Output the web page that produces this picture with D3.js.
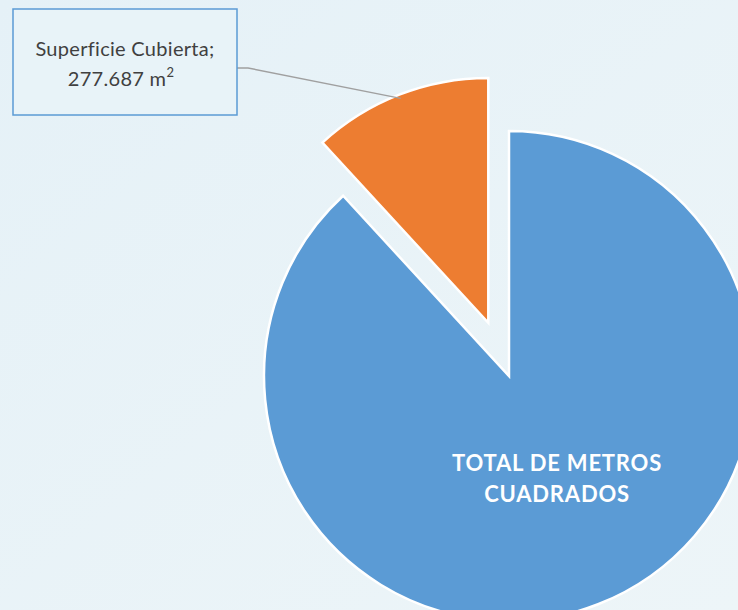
<!DOCTYPE html>
<html>
<head>
<meta charset="utf-8">
<script src="https://cdn.jsdelivr.net/npm/d3@7"></script>
<style>
  html, body { margin: 0; padding: 0; background: #e9f4f8; }
  svg { display: block; }
</style>
</head>
<body>
<script>
// data
var categories = ["TOTAL DE METROS CUADRADOS", "Superficie Cubierta"];
var values = [2068, 277.687];
var labelTexts = [["TOTAL DE METROS", "CUADRADOS"], ["Superficie Cubierta;", "277.687 m"]];
var colors = ["#5b9bd5", "#ed7d31"];

var width = 738,
    height = 610;

var cx = 509, cy = 376, radius = 245, explode = 57;

var svg = d3.select("body").append("svg")
    .attr("width", width)
    .attr("height", height);

var defs = svg.append("defs");
var grad = defs.append("linearGradient")
    .attr("id", "bg")
    .attr("x1", "0").attr("y1", "0")
    .attr("x2", "1").attr("y2", "1");
grad.append("stop").attr("offset", "0").attr("stop-color", "#e5f1f7");
grad.append("stop").attr("offset", "1").attr("stop-color", "#edf5f8");

svg.append("rect")
    .attr("width", width)
    .attr("height", height)
    .attr("fill", "url(#bg)");

var pie = d3.pie()
    .sort(null)
    .value(function(d) { return d; });

var arc = d3.arc()
    .innerRadius(0)
    .outerRadius(radius);

var arcs = pie(values);

var g = svg.append("g")
    .attr("transform", "translate(" + cx + "," + cy + ")");

// offset for exploded slice
function shift(d, i) {
    if (i === 0) return null;
    var a = (d.startAngle + d.endAngle) / 2;
    return "translate(" + (Math.sin(a) * explode) + "," + (-Math.cos(a) * explode) + ")";
}

g.selectAll("path.slice")
    .data(arcs)
    .enter()
    .append("path")
    .attr("class", "slice")
    .attr("transform", shift)
    .attr("d", arc)
    .attr("fill", function(d, i) { return colors[i]; })
    .attr("stroke", "#ffffff")
    .attr("stroke-width", 2.5)
    .attr("stroke-linejoin", "miter");

// label inside the big slice
var inLabel = g.append("text")
    .attr("text-anchor", "middle")
    .attr("font-family", "Lato, 'Open Sans', sans-serif")
    .attr("font-weight", "bold")
    .attr("font-size", 22)
    .attr("letter-spacing", 0.8)
    .attr("fill", "#ffffff");
labelTexts[0].forEach(function(t, j) {
    inLabel.append("tspan")
        .attr("x", 48)
        .attr("y", 95 + j * 31)
        .text(t);
});

// callout for small slice
var box = { x: 13, y: 9, w: 224, h: 106 };
var small = arcs[1];
var sa = (small.startAngle + small.endAngle) / 2;
var edge = [Math.sin(sa) * (explode + radius - 4) + cx,
            -Math.cos(sa) * (explode + radius - 4) + cy];

svg.append("polyline")
    .attr("points", [[box.x + box.w, 68], [248, 68], edge].join(" "))
    .attr("fill", "none")
    .attr("stroke", "#a0a0a0")
    .attr("stroke-width", 1.5);

svg.append("rect")
    .attr("x", box.x)
    .attr("y", box.y)
    .attr("width", box.w)
    .attr("height", box.h)
    .attr("fill", "#e8f3f8")
    .attr("stroke", "#5b9bd5")
    .attr("stroke-width", 1.5);

var callout = svg.append("text")
    .attr("text-anchor", "middle")
    .attr("font-family", "Lato, 'Open Sans', sans-serif")
    .attr("font-size", 20)
    .attr("letter-spacing", 0.3)
    .attr("fill", "#404040");
callout.append("tspan")
    .attr("x", box.x + box.w / 2)
    .attr("y", 56)
    .text(labelTexts[1][0]);
callout.append("tspan")
    .attr("x", box.x + box.w / 2 - 4)
    .attr("y", 86)
    .text(labelTexts[1][1]);
callout.append("tspan")
    .attr("dy", -9)
    .attr("font-size", 13)
    .text("2");
</script>
</body>
</html>
